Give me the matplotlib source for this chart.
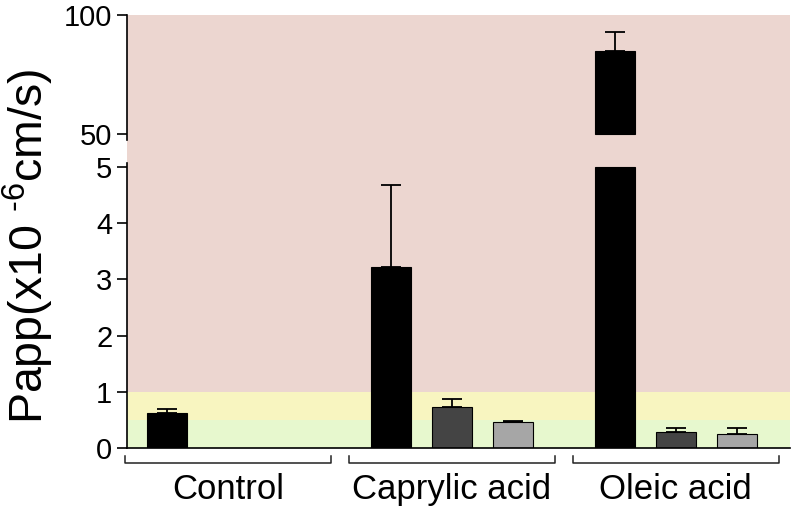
import matplotlib

matplotlib.use("Agg")

import matplotlib.pyplot as plt
import numpy as np

plt.rcParams['font.family'] = ['Liberation Sans', 'DejaVu Sans']
plt.rcParams['mathtext.fontset'] = 'custom'
plt.rcParams['mathtext.rm'] = 'Liberation Sans'
plt.rcParams['mathtext.default'] = 'regular'

# данные
groups = ['Control', 'Caprylic acid', 'Oleic acid']
black_vals = [0.62, 3.22, 84.9]
black_err = [0.07, 1.46, 8.0]
dark_vals = [np.nan, 0.73, 0.28]
dark_err = [np.nan, 0.14, 0.08]
light_vals = [np.nan, 0.46, 0.25]
light_err = [np.nan, 0.02, 0.11]

series = [
    (black_vals, black_err, '#000000'),
    (dark_vals, dark_err, '#444444'),
    (light_vals, light_err, '#a6a6a6'),
]

low_ticks = [0, 1, 2, 3, 4, 5]
high_ticks = [50, 100]

PINK = '#ecd6d0'
YELLOW = '#f8f5c0'
GREEN = '#e7f8ce'

group_step = 3.67
bar_w = 0.66
low_top = 5.0
low_lim = (0, 5.30)
high_lim = (43.3, 100)

fig = plt.figure(figsize=(7.93, 5.07), dpi=100)
ax_hi = fig.add_axes([0.160, 0.704, 0.836, 0.266])
ax_lo = fig.add_axes([0.160, 0.1164, 0.836, 0.5878])

# фон
ax_hi.set_facecolor(PINK)
ax_lo.axhspan(0, 0.5, color=GREEN, lw=0, zorder=0)
ax_lo.axhspan(0.5, 1, color=YELLOW, lw=0, zorder=0)
ax_lo.axhspan(1, low_lim[1], color=PINK, lw=0, zorder=0)

for j, (vals, errs, col) in enumerate(series):
    x = np.arange(len(groups)) * group_step + j
    v = np.array(vals, dtype=float)
    e = np.array(errs, dtype=float)
    ec = 'black' if j > 0 else col
    # нижняя часть
    ax_lo.bar(x, np.minimum(v, low_top), width=bar_w, color=col,
              edgecolor=ec, linewidth=0.8, zorder=2)
    m = v <= low_top
    ax_lo.errorbar(x[m], v[m], yerr=[np.zeros(m.sum()), e[m]], fmt='none',
                   ecolor='black', elinewidth=1.3, capsize=7, capthick=1.3,
                   zorder=1)
    # верхняя часть
    mh = v > high_lim[0]
    if mh.any():
        ax_hi.bar(x[mh], v[mh] - 50, bottom=50, width=bar_w, color=col,
                  edgecolor=ec, linewidth=0.8, zorder=2)
        ax_hi.errorbar(x[mh], v[mh], yerr=[np.zeros(mh.sum()), e[mh]],
                       fmt='none', ecolor='black', elinewidth=1.3, capsize=7,
                       capthick=1.3, zorder=1)

xlim = (-0.656, 10.21)
for ax in (ax_hi, ax_lo):
    ax.set_xlim(*xlim)
    ax.spines['top'].set_visible(False)
    ax.spines['right'].set_visible(False)
    ax.spines['left'].set_linewidth(1.2)
    ax.tick_params(axis='x', bottom=False, labelbottom=False)
    ax.tick_params(axis='y', which='major', direction='out', length=7.5,
                   width=1.2, labelsize=21, pad=3)
    ax.tick_params(axis='y', which='minor', direction='in', length=7.5,
                   width=1.2)

ax_hi.spines['bottom'].set_visible(False)
ax_hi.set_ylim(*high_lim)
ax_hi.set_yticks(high_ticks)
ax_hi.set_yticks([50], minor=True)
ax_hi.spines['left'].set_bounds(47.5, 100)

ax_lo.set_ylim(*low_lim)
ax_lo.set_yticks(low_ticks)
ax_lo.set_yticks([5], minor=True)
ax_lo.spines['left'].set_bounds(0, 5.07)
ax_lo.spines['bottom'].set_linewidth(1.2)

# скобки групп
for gi, name in enumerate(groups):
    c = gi * group_step + 1
    h = 1.69
    ax_lo.plot([c - h, c - h, c + h, c + h], [-0.14, -0.27, -0.27, -0.14],
               color='#222222', lw=1.1, clip_on=False)
    ax_lo.text(c, -0.74, name, ha='center', va='center', fontsize=25)

fig.text(28 / 793, 1 - 246 / 507, r'Papp(x10 $^{\text{-}6}$cm/s)', rotation=90,
         ha='center', va='center', fontsize=33.5)

fig.savefig('out.png', dpi=100)
